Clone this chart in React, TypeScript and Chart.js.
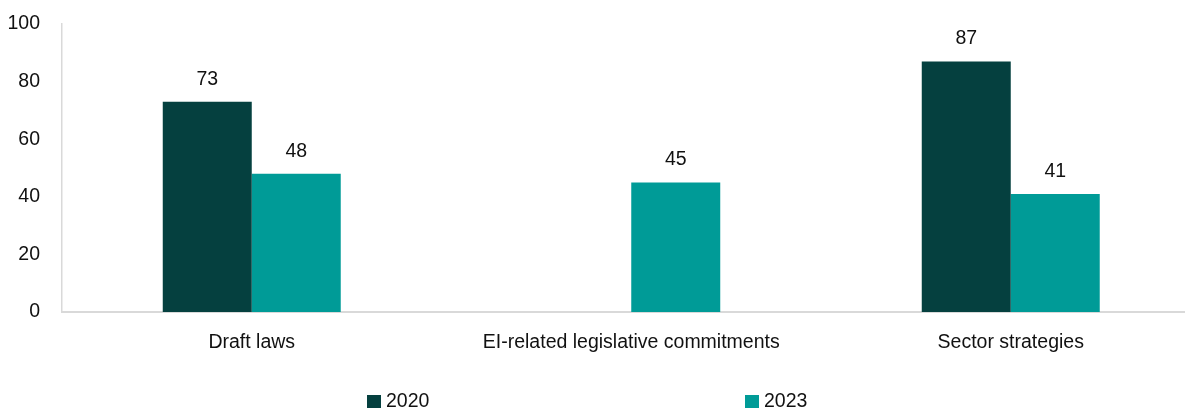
import React, { useEffect, useRef } from "react";
import { Chart, registerables } from "chart.js";

Chart.register(...registerables);

const categories = ["Draft laws", "EI-related legislative commitments", "Sector strategies"];
const seriesNames = ["2020", "2023"];
const values2020: (number | null)[] = [73, null, 87];
const values2023: (number | null)[] = [48, 45, 41];
const yTicks = [0, 20, 40, 60, 80, 100];

const COLORS = ["#05403F", "#009B97"];
const FONT = "'Liberation Sans', Arial, sans-serif";
const FS = 19.5;
const TEXT = "#111111";

const valueLabels = {
  id: "valueLabels",
  afterDatasetsDraw(chart: any) {
    const ctx = chart.ctx;
    ctx.save();
    ctx.font = `${FS}px ${FONT}`;
    ctx.fillStyle = TEXT;
    ctx.textAlign = "center";
    ctx.textBaseline = "alphabetic";
    chart.data.datasets.forEach((ds: any, i: number) => {
      const meta = chart.getDatasetMeta(i);
      meta.data.forEach((el: any, j: number) => {
        const v = ds.data[j];
        if (v === null || v === undefined) return;
        ctx.fillText(String(v), el.x, el.y - 17);
      });
    });
    ctx.restore();
  },
};

export default function App() {
  const ref = useRef<HTMLCanvasElement | null>(null);
  useEffect(() => {
    if (!ref.current) return;
    const chart = new Chart(ref.current, {
      type: "bar",
      data: {
        labels: categories,
        datasets: [
          { label: seriesNames[0], data: values2020, backgroundColor: COLORS[0] },
          { label: seriesNames[1], data: values2023, backgroundColor: COLORS[1] },
        ],
      },
      options: {
        animation: false,
        responsive: true,
        maintainAspectRatio: false,
        layout: { padding: { left: 0, right: 9.5, top: 24, bottom: 0 } },
        datasets: { bar: { categoryPercentage: 0.469, barPercentage: 1 } },
        plugins: { legend: { display: false }, tooltip: { enabled: false } },
        scales: {
          x: {
            grid: { display: false, drawTicks: false },
            border: { display: true, color: "#D9D9D9", width: 2 },
            ticks: { color: TEXT, font: { family: FONT, size: FS }, padding: 19, maxRotation: 0 },
            afterFit: (s: any) => {
              s.height = 98;
            },
          },
          y: {
            min: 0,
            max: 100,
            afterBuildTicks: (s: any) => {
              s.ticks = yTicks.map((v) => ({ value: v }));
            },
            grid: { display: false, drawTicks: false },
            border: { display: true, color: "#D9D9D9", width: 1.5 },
            ticks: { color: TEXT, font: { family: FONT, size: FS }, padding: 22 },
            afterFit: (s: any) => {
              s.width = 62;
              s.paddingTop = 0;
              s.paddingBottom = 0;
            },
          },
        },
      },
      plugins: [valueLabels],
    });
    return () => chart.destroy();
  }, []);

  const legendItem = (i: number, left: number) => (
    <div
      key={i}
      style={{
        position: "absolute",
        left,
        top: 390,
        height: 20,
        display: "flex",
        alignItems: "center",
        font: `${FS}px ${FONT}`,
        lineHeight: "20px",
        color: TEXT,
      }}
    >
      <span style={{ width: 14, height: 13, background: COLORS[i], display: "inline-block", marginRight: 5, marginTop: 3 }} />
      <span>{seriesNames[i]}</span>
    </div>
  );

  return (
    <div style={{ position: "absolute", left: 0, top: 0, width: 1185, height: 410, overflow: "hidden", background: "#fff" }}>
      <div style={{ position: "absolute", left: 0, top: 0, width: 1210, height: 410 }}>
        <canvas ref={ref} />
      </div>
      {legendItem(0, 367)}
      {legendItem(1, 745)}
    </div>
  );
}
